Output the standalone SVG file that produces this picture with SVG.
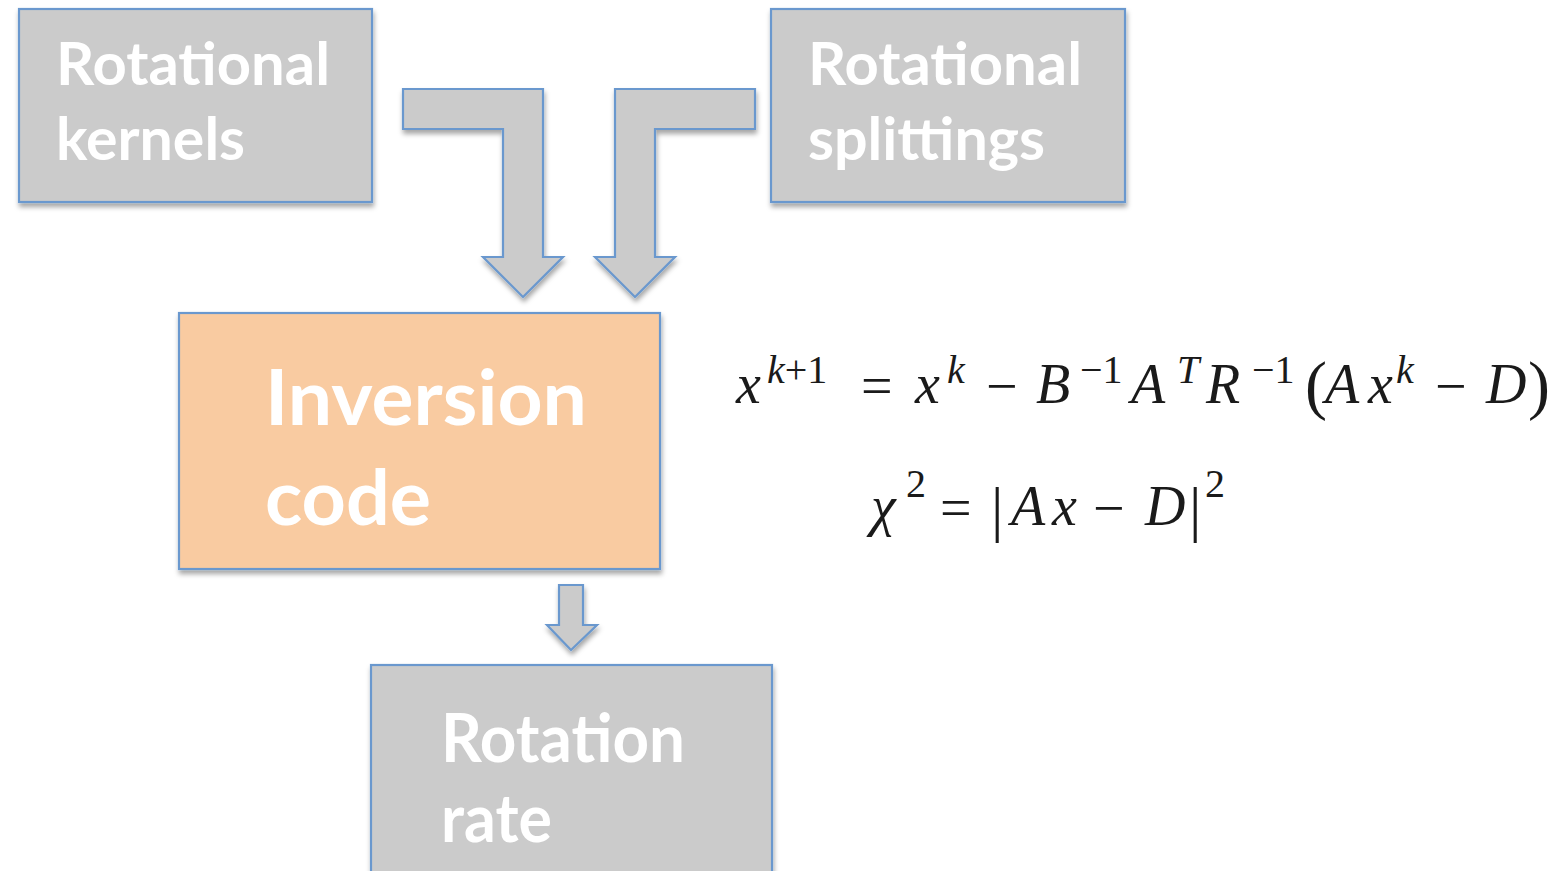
<svg xmlns="http://www.w3.org/2000/svg" width="1564" height="871" viewBox="0 0 1564 871">
<defs>
<filter id="sh" x="-10%" y="-10%" width="130%" height="130%">
<feDropShadow dx="1" dy="4" stdDeviation="2.5" flood-color="#000" flood-opacity="0.35"/>
</filter>
</defs>
<style>
.box{fill:#CBCBCB;stroke:#6A98CE;stroke-width:2.2;filter:url(#sh)}
.org{fill:#F9CBA1}
.arr{fill:#CBCBCB;stroke:#6A98CE;stroke-width:2.2;stroke-linejoin:miter;filter:url(#sh)}
.lbl{font-family:Lato,"Open Sans","Liberation Sans",sans-serif;font-weight:bold;fill:#fff}
.m{font-family:"Liberation Serif","DejaVu Serif",serif;fill:#1a1a1a;font-size:56px}
.i{font-style:italic}
.s{font-size:40px}
.p{font-size:66px}
.b{font-size:62px}
</style>
<rect width="1564" height="871" fill="#fff"/>
<g id="connectors">
<path class="arr" d="M403,89 H543 V257 H563 L523,297 L483,257 H503 V129 H403 Z"/>
<path class="arr" d="M755,89 H615 V257 H595 L635,297 L675,257 H655 V129 H755 Z"/>
<path class="arr" d="M559,585 H583 V625 H597 L571,650 L547,625 H559 Z"/>
</g>
<g id="node-kernels">
<rect class="box" x="19" y="9" width="353" height="193"/>
<text class="lbl" font-size="60" x="56" y="85" textLength="274" lengthAdjust="spacingAndGlyphs">Rotational</text>
<text class="lbl" font-size="60" x="56" y="160" textLength="189" lengthAdjust="spacingAndGlyphs">kernels</text>
</g>
<g id="node-splittings">
<rect class="box" x="771" y="9" width="354" height="193"/>
<text class="lbl" font-size="60" x="808" y="85" textLength="274" lengthAdjust="spacingAndGlyphs">Rotational</text>
<text class="lbl" font-size="60" x="808" y="160" textLength="237" lengthAdjust="spacingAndGlyphs">splittings</text>
</g>
<g id="node-inversion">
<rect class="box org" x="179" y="313" width="481" height="256"/>
<text class="lbl" font-size="76" x="265" y="425" textLength="322" lengthAdjust="spacingAndGlyphs">Inversion</text>
<text class="lbl" font-size="76" x="265" y="525" textLength="166" lengthAdjust="spacingAndGlyphs">code</text>
</g>
<g id="node-rate">
<rect class="box" x="371" y="665" width="401" height="220"/>
<text class="lbl" font-size="66" x="441" y="762" textLength="244" lengthAdjust="spacingAndGlyphs">Rotation</text>
<text class="lbl" font-size="66" x="441" y="842" textLength="111" lengthAdjust="spacingAndGlyphs">rate</text>
</g>
<g id="equations">
<text class="m">
<tspan class="i" x="736" y="403">x</tspan><tspan class="s i" x="767" y="383">k</tspan><tspan class="s" y="383">+1</tspan>
<tspan x="861" y="405">=</tspan>
<tspan class="i" x="915" y="403">x</tspan><tspan class="s i" x="947" y="383">k</tspan>
<tspan x="986" y="405">−</tspan>
<tspan class="i" x="1036" y="403">B</tspan><tspan class="s" x="1080" y="383">−1</tspan>
<tspan class="i" x="1131" y="403">A</tspan><tspan class="s i" x="1177" y="383">T</tspan>
<tspan class="i" x="1206" y="403">R</tspan><tspan class="s" x="1252" y="383">−1</tspan>
<tspan class="p" x="1305" y="407">(</tspan><tspan class="i" x="1325" y="403">A</tspan><tspan class="i" x="1368" y="403">x</tspan><tspan class="s i" x="1396" y="383">k</tspan>
<tspan x="1435" y="405">−</tspan>
<tspan class="i" x="1486" y="403">D</tspan><tspan class="p" x="1528" y="407">)</tspan>
</text>
<text class="m">
<tspan class="i" x="871" y="525">χ</tspan><tspan class="s" x="906" y="497">2</tspan>
<tspan x="940" y="527">=</tspan>
<tspan class="b" x="991" y="530">|</tspan><tspan class="i" x="1011" y="525">A</tspan><tspan class="i" x="1052" y="525">x</tspan>
<tspan x="1093" y="527">−</tspan>
<tspan class="i" x="1145" y="525">D</tspan><tspan class="b" x="1189" y="530">|</tspan><tspan class="s" x="1205" y="497">2</tspan>
</text>
</g>
</svg>
